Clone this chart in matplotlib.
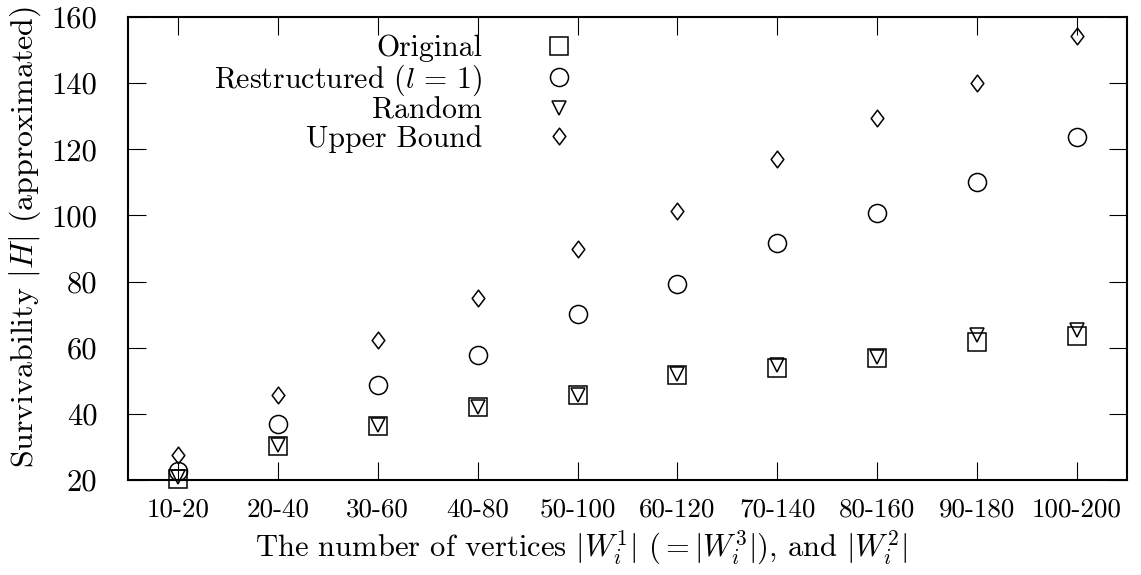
import numpy as np
import matplotlib
matplotlib.use("Agg")
import matplotlib.pyplot as plt
from matplotlib.path import Path

# data
categories = ["10-20", "20-40", "30-60", "40-80", "50-100",
              "60-120", "70-140", "80-160", "90-180", "100-200"]
original = [20.4, 30.3, 36.3, 42.1, 45.7, 51.7, 54.0, 56.9, 61.6, 63.5]
restructured = [22.7, 37.0, 48.7, 57.8, 70.3, 79.3, 91.8, 100.8, 110.2, 123.6]
random_ = [20.8, 30.5, 36.5, 42.0, 45.8, 52.0, 54.7, 57.2, 63.8, 65.4]
upper = [27.6, 45.7, 62.3, 75.0, 89.8, 101.4, 117.0, 129.4, 140.0, 154.4]
yticks = [20, 40, 60, 80, 100, 120, 140, 160]

plt.rcParams['font.family'] = 'serif'
plt.rcParams['font.serif'] = ['cmr10']
plt.rcParams['mathtext.fontset'] = 'cm'
plt.rcParams['axes.formatter.use_mathtext'] = True

# gnuplot-ish thin diamond
diamond = Path([(0, 0.5), (0.38, 0), (0, -0.5), (-0.38, 0), (0, 0.5)],
               [Path.MOVETO, Path.LINETO, Path.LINETO, Path.LINETO, Path.CLOSEPOLY])

fig = plt.figure(figsize=(11.41, 5.75), dpi=100)
ax = fig.add_axes([128/1141, 1-480/575, 999/1141, 463/575])

x = np.arange(len(categories))
kw = dict(ls="none", mfc="none", mec="black", mew=1.1, clip_on=False)
ax.plot(x, original, marker="s", ms=12.5, label="Original", **kw)
ax.plot(x, restructured, marker="o", ms=13, label=r"Restructured $(l\,=\,1)$", **kw)
ax.plot(x, random_, marker="v", ms=10, label="Random", **kw)
ax.plot(x, upper, marker=diamond, ms=12, label="Upper Bound", **kw)

ax.set_xlim(-0.5, 9.5)
ax.set_ylim(20, 160)
ax.set_xticks(x)
ax.set_xticklabels(categories, fontsize=19.5)
ax.set_yticks(yticks)
ax.set_yticklabels([str(v) for v in yticks], fontsize=22)
ax.tick_params(direction="in", length=13, width=0.8, top=True, right=True)
ax.tick_params(axis="x", pad=13)
ax.tick_params(axis="y", pad=22)
for s in ax.spines.values():
    s.set_linewidth(1.5)

ax.set_xlabel(r"The number of vertices $|W_i^1|$ $(=|W_i^3|)$, and $|W_i^2|$", fontsize=22, va="center")
ax.xaxis.set_label_coords(0.4535, -0.147)
ax.set_ylabel(r"Survivability $|H|$ (approximated)", fontsize=23, va="center")
ax.yaxis.set_label_coords(-0.103, 0.525)

ax.legend(loc="upper right", bbox_to_anchor=(0.4465, 0.962), markerfirst=False, frameon=False,
          fontsize=21.5, handlelength=1.0, handletextpad=2.08, labelspacing=0.0,
          borderpad=0, borderaxespad=0)

fig.savefig("out.png", dpi=100)
